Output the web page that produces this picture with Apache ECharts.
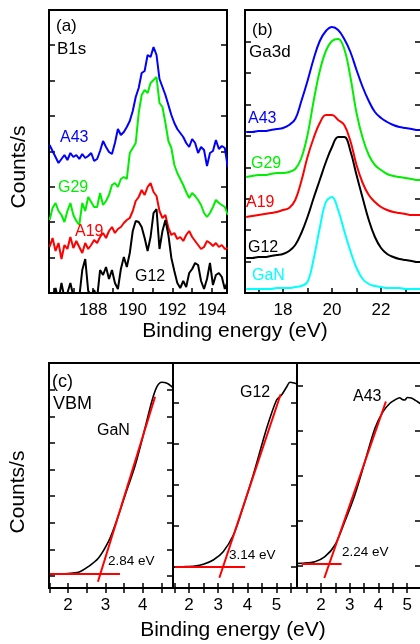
<!DOCTYPE html>
<html>
<head>
<meta charset="utf-8">
<script src="https://cdn.jsdelivr.net/npm/echarts@6/dist/echarts.min.js"></script>
<style>
  html, body { margin: 0; padding: 0; background: #fff; }
  #chart { width: 420px; height: 644px; }
</style>
</head>
<body>
<div id="chart"></div>
<script>
// (a) B1s, binding energy (eV)
var aEnergy = [185.8, 185.95, 186.1, 186.25, 186.4, 186.55, 186.7, 186.85, 187.0, 187.15, 187.3, 187.45, 187.6, 187.75, 187.9, 188.05, 188.2, 188.35, 188.5, 188.65, 188.8, 188.95, 189.1, 189.25, 189.4, 189.55, 189.7, 189.85, 190.0, 190.15, 190.3, 190.45, 190.6, 190.75, 190.9, 191.05, 191.2, 191.35, 191.5, 191.65, 191.8, 191.95, 192.1, 192.25, 192.4, 192.55, 192.7, 192.85, 193.0, 193.15, 193.3, 193.45, 193.6, 193.75, 193.9, 194.05, 194.2, 194.35, 194.5, 194.65, 194.8];
var aA43 = [148, 142, 136, 130, 134, 138, 133, 140, 136, 138, 134, 139, 135, 137, 140, 132, 134, 142, 152, 146, 141, 139, 150, 164, 158, 161, 166, 172, 182, 196, 205, 220, 222, 238, 236, 246, 238, 214, 206, 198, 188, 178, 170, 164, 160, 156, 150, 146, 154, 150, 140, 146, 143, 127, 140, 142, 153, 144, 147, 145, 126];
var aG29 = [73, 85, 90, 82, 78, 71, 82, 90, 78, 72, 68, 90, 82, 96, 91, 86, 86, 100, 88, 92, 98, 108, 110, 106, 114, 116, 114, 140, 145, 150, 180, 198, 203, 200, 210, 213, 216, 190, 186, 170, 152, 145, 128, 120, 114, 108, 101, 95, 100, 97, 93, 88, 80, 76, 80, 86, 93, 90, 88, 86, 78];
var aA19 = [46, 55, 42, 50, 34, 48, 44, 56, 45, 52, 46, 40, 50, 44, 48, 53, 50, 56, 60, 55, 62, 66, 60, 64, 66, 70, 73, 75, 82, 92, 96, 103, 98, 106, 110, 101, 97, 82, 75, 78, 65, 58, 60, 54, 56, 52, 58, 62, 56, 52, 48, 44, 46, 52, 50, 47, 50, 46, 48, 44, 45];
var aG12 = [-6, -4, 5, -8, 10, -5, 0, 10, -3, -10, -4, 23, 34, 2, -2, 3, -5, 23, 18, 26, 14, 23, 10, 4, 24, 36, 26, 40, 62, 72, 71, 66, 55, 42, 56, 80, 84, 44, 62, 73, 58, 35, 22, 10, 5, 12, 6, 20, 24, 30, 28, 12, 4, 14, 30, 8, 18, 20, 16, 4, 12];

// (b) Ga3d
var bEnergy = [16.5, 16.75, 17.0, 17.25, 17.5, 17.75, 18.0, 18.25, 18.5, 18.75, 19.0, 19.25, 19.5, 19.75, 20.0, 20.25, 20.5, 20.75, 21.0, 21.25, 21.5, 21.75, 22.0, 22.25, 22.5, 22.75, 23.0, 23.25, 23.5, 23.75];
var bA43 = [161, 161, 162, 162, 163, 164, 165, 168, 174, 192, 212, 234, 252, 262, 266, 263, 254, 241, 223, 206, 192, 181, 175, 171, 168, 166, 165, 164, 163, 163];
var bG29 = [116, 117, 118, 118, 119, 120, 120, 121, 124, 135, 158, 192, 222, 242, 252, 254, 244, 216, 180, 155, 138, 128, 123, 119, 117, 116, 115, 114, 113, 113];
var bA19 = [76, 77, 78, 79, 80, 81, 83, 85, 93, 112, 136, 155, 170, 178, 178, 173, 168, 152, 128, 110, 98, 91, 86, 83, 81, 80, 79, 78, 78, 78];
var bG12 = [35, 35, 36, 36, 37, 38, 39, 42, 48, 60, 76, 95, 113, 131, 146, 156, 156, 142, 118, 95, 73, 56, 45, 39, 36, 34, 33, 32, 31, 31];
var bGaN = [4, 4, 4, 4, 4, 5, 5, 5, 6, 7, 11, 34, 65, 91, 96, 83, 62, 42, 25, 14, 9, 7, 6, 5, 5, 5, 4, 4, 4, 4];

// (c) VBM
var c1Energy = [1.49, 1.75, 2.0, 2.28, 2.54, 2.81, 3.08, 3.26, 3.53, 3.8, 4.06, 4.24, 4.38, 4.51, 4.65, 4.78, 4.81];
var c1Counts = [13.5, 14, 14.5, 15.7, 21.3, 29.7, 46.3, 63, 93, 123, 159.7, 186.3, 201.3, 205.7, 204.7, 201.3, 200];
var c1Base = [[1.52, 14], [3.39, 14]];
var c1Edge = [[2.8, 6.3], [4.33, 191.3]];

var c2Energy = [1.45, 1.8, 2.2, 2.49, 2.83, 3.17, 3.52, 3.8, 4.2, 4.66, 5.0, 5.17, 5.35, 5.46, 5.63, 5.7];
var c2Counts = [21, 21.3, 22, 23.7, 28, 36.3, 53, 76.3, 113, 159.7, 188, 193, 201.3, 205.7, 204.7, 204];
var c2Base = [[1.52, 21], [3.92, 21]];
var c2Edge = [[3.04, 10.3], [5.14, 193.7]];

var c3Energy = [1.17, 1.33, 1.79, 2.14, 2.49, 2.83, 3.18, 3.53, 3.88, 4.16, 4.4, 4.57, 4.74, 4.83, 4.92, 5.0, 5.09, 5.18, 5.26, 5.35, 5.44, 5.48];
var c3Counts = [24.5, 24.7, 26.3, 31.3, 43, 66.3, 93, 126.3, 159.7, 176.3, 184.7, 188, 190.3, 188.5, 188, 190.5, 190.3, 189.5, 188, 186.5, 184.7, 184];
var c3Base = [[1.33, 24], [2.72, 24]];
var c3Edge = [[2.12, 10], [4.26, 186.5]];

// ticks and tick labels
var aXTicks = [186, 187, 188, 189, 190, 191, 192, 193, 194];
var aXLabels = [188, 190, 192, 194];
var bXTicks = [17, 18, 19, 20, 21, 22, 23];
var bXLabels = [18, 20, 22];
var c1XTicks = [1.5, 2, 2.5, 3, 3.5, 4, 4.5];
var c1XLabels = [2, 3, 4];
var c2XTicks = [1.5, 2, 2.5, 3, 3.5, 4, 4.5, 5, 5.5];
var c2XLabels = [2, 3, 4, 5];
var c3XTicks = [1.5, 2, 2.5, 3, 3.5, 4, 4.5, 5];
var c3XLabels = [2, 3, 4, 5];
var aYTicks = [35.4, 70.8, 106.2, 141.6, 177, 212.4, 247.8];
var bYTicks = [31.4, 62.8, 94.2, 125.6, 157, 188.4, 219.8, 251.2];
var c1YTicks = [12, 38.6, 65.2, 91.8, 118.4, 145, 171.6, 198.2];
var c2YTicks = [21, 62, 103, 144, 185];
var c3YTicks = [22, 67, 112, 157, 202];

var FONT = '"Liberation Sans", Arial, sans-serif';

var panels = [
    { rect: [49, 10, 178, 283], x: [185.77, 194.76], y: [0, 283], xt: aXTicks, xl: aXLabels, yt: aYTicks, topTicks: false },
    { rect: [245, 10, 176, 283], x: [16.45, 23.63], y: [0, 283], xt: bXTicks, xl: bXLabels, yt: bYTicks, topTicks: false },
    { rect: [49, 363, 124, 225], x: [1.49, 4.81], y: [0, 225], xt: c1XTicks, xl: c1XLabels, yt: c1YTicks, topTicks: true },
    { rect: [173, 363, 124, 225], x: [1.45, 5.7], y: [0, 225], xt: c2XTicks, xl: c2XLabels, yt: c2YTicks, topTicks: true },
    { rect: [297, 363, 124, 225], x: [1.17, 5.48], y: [0, 225], xt: c3XTicks, xl: c3XLabels, yt: c3YTicks, topTicks: true }
];

var grids = [], xAxes = [], yAxes = [];
panels.forEach(function (p, g) {
    grids.push({
        left: p.rect[0], top: p.rect[1], width: p.rect[2], height: p.rect[3],
        show: true, borderColor: "#000", borderWidth: 2, backgroundColor: "transparent",
        containLabel: false, outerBoundsMode: "none"
    });
    // bottom + top
    xAxes.push({
        type: "value", gridIndex: g, position: "bottom", min: p.x[0], max: p.x[1],
        splitLine: { show: false }, axisLine: { show: false },
        axisTick: { show: true, inside: true, length: 5, lineStyle: { color: "#000", width: 1.5 }, customValues: p.xt },
        axisLabel: { show: true, customValues: p.xl, margin: 9, color: "#000", fontSize: 17, fontFamily: FONT,
            formatter: function (v) { return String(v); } }
    });
    xAxes.push({
        type: "value", gridIndex: g, position: "top", min: p.x[0], max: p.x[1],
        splitLine: { show: false }, axisLine: { show: false }, axisLabel: { show: false },
        axisTick: { show: p.topTicks, inside: true, length: 5, lineStyle: { color: "#000", width: 1.5 }, customValues: p.xt }
    });
    // left + right
    yAxes.push({
        type: "value", gridIndex: g, position: "left", min: p.y[0], max: p.y[1],
        splitLine: { show: false }, axisLine: { show: false }, axisLabel: { show: false },
        axisTick: { show: true, inside: true, length: 6, lineStyle: { color: "#000", width: 1.5 }, customValues: p.yt }
    });
    yAxes.push({
        type: "value", gridIndex: g, position: "right", min: p.y[0], max: p.y[1],
        splitLine: { show: false }, axisLine: { show: false }, axisLabel: { show: false },
        axisTick: { show: true, inside: true, length: 6, lineStyle: { color: "#000", width: 1.5 }, customValues: p.yt }
    });
});

function pairs(xs, ys) {
    return xs.map(function (x, i) { return [x, ys[i]]; });
}
function curve(g, data, color, width, smooth) {
    return {
        type: "line", xAxisIndex: 2 * g, yAxisIndex: 2 * g, data: data,
        symbol: "none", smooth: smooth || false, clip: true, silent: true,
        lineStyle: { color: color, width: width }
    };
}

var series = [
    curve(0, pairs(aEnergy, aA43), "#0000ff", 2),
    curve(0, pairs(aEnergy, aG29), "#00ee00", 2),
    curve(0, pairs(aEnergy, aA19), "#ff0000", 2),
    curve(0, pairs(aEnergy, aG12), "#000000", 2),
    curve(1, pairs(bEnergy, bA43), "#0000ff", 2, 0.4),
    curve(1, pairs(bEnergy, bG29), "#00ee00", 2, 0.4),
    curve(1, pairs(bEnergy, bA19), "#ff0000", 2, 0.4),
    curve(1, pairs(bEnergy, bG12), "#000000", 2, 0.4),
    curve(1, pairs(bEnergy, bGaN), "#00ffff", 2, 0.4),
    curve(2, pairs(c1Energy, c1Counts), "#000000", 1.6, 0.3),
    curve(2, c1Base, "#ff0000", 2),
    curve(2, c1Edge, "#ff0000", 2),
    curve(3, pairs(c2Energy, c2Counts), "#000000", 1.6, 0.3),
    curve(3, c2Base, "#ff0000", 2),
    curve(3, c2Edge, "#ff0000", 2),
    curve(4, pairs(c3Energy, c3Counts), "#000000", 1.6, 0.3),
    curve(4, c3Base, "#ff0000", 2),
    curve(4, c3Edge, "#ff0000", 2)
];

// text annotations: [text, x, y, colour, size]
var notes = [
    ["(a)", 56, 26, "#000", 17], ["B1s", 57, 49, "#000", 17],
    ["A43", 60, 138, "#0000ff", 16], ["G29", 58, 188, "#00ee00", 16],
    ["A19", 75, 232, "#ff0000", 16], ["G12", 135, 277, "#000", 16],
    ["(b)", 252, 30, "#000", 17], ["Ga3d", 249, 52, "#000", 17],
    ["A43", 248, 119, "#0000ff", 16], ["G29", 251, 164, "#00ee00", 16],
    ["A19", 246, 203, "#ff0000", 16], ["G12", 248, 248, "#000", 16],
    ["GaN", 252, 276, "#00ffff", 16],
    ["(c)", 52, 382, "#000", 18], ["VBM", 53, 404, "#000", 18],
    ["GaN", 97, 431, "#000", 16], ["2.84 eV", 108, 561, "#000", 13.5],
    ["G12", 240, 393, "#000", 16], ["3.14 eV", 229, 555, "#000", 13.5],
    ["A43", 353, 397, "#000", 16], ["2.24 eV", 342, 552, "#000", 13.5]
];
var graphics = notes.map(function (n) {
    return { type: "text", left: null, x: n[1], y: n[2], silent: true, z: 10,
        style: { text: n[0], fill: n[3], font: n[4] + "px " + FONT, align: "left", verticalAlign: "middle" } };
});
var titles = [
    ["Binding energy (eV)", 235, 331, 0], ["Binding energy (eV)", 233, 630, 0],
    ["Counts/s", 19, 167, Math.PI / 2], ["Counts/s", 18, 492, Math.PI / 2]
];
titles.forEach(function (t) {
    graphics.push({ type: "text", x: t[1], y: t[2], rotation: t[3], silent: true,
        style: { text: t[0], fill: "#000", font: "21px " + FONT, align: "center", verticalAlign: "middle" } });
});

var chart = echarts.init(document.getElementById("chart"), null, { renderer: "canvas" });
chart.setOption({
    animation: false,
    backgroundColor: "#fff",
    grid: grids,
    xAxis: xAxes,
    yAxis: yAxes,
    series: series,
    graphic: graphics
});
</script>
</body>
</html>
